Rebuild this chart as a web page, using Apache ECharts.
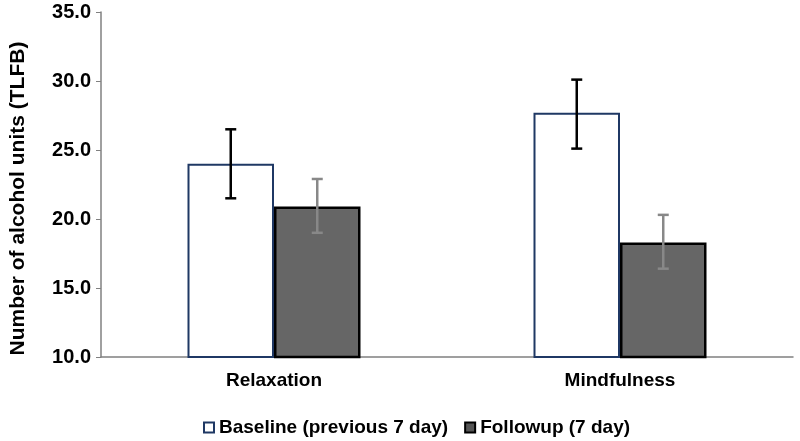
<!DOCTYPE html>
<html>
<head>
<meta charset="utf-8">
<script src="https://cdn.jsdelivr.net/npm/echarts@6/dist/echarts.min.js"></script>
<style>
  html, body { margin: 0; padding: 0; background: #fff; }
  #main { width: 800px; height: 441px; }
</style>
</head>
<body>
<div id="main"></div>
<script>
// categories + values
const categories = ['Relaxation', 'Mindfulness'];
const baseline = [24.0, 27.7];
const followup = [20.9, 18.3];
// error bars [low, high]
const baselineErr = [[21.5, 26.5], [25.1, 30.1]];
const followupErr = [[19.0, 22.9], [16.4, 20.3]];

const FONT = '"Liberation Sans", Arial, sans-serif';

// error bar drawn next to its bar; side -1 = left bar, +1 = right bar
function errorSeries(name, errs, side, color) {
  return {
    type: 'custom',
    name: name + ' err',
    z: 10,
    silent: true,
    data: errs.map((e, i) => [i, e[0], e[1]]),
    renderItem: function (params, api) {
      const band = api.size([1, 0])[0];
      const off = side * band * 0.125;
      const lo = api.coord([api.value(0), api.value(1)]);
      const hi = api.coord([api.value(0), api.value(2)]);
      const x = lo[0] + off;
      const cap = 5.5;
      const style = { stroke: color, lineWidth: 2.5 };
      return {
        type: 'group',
        children: [
          { type: 'line', shape: { x1: x, y1: lo[1], x2: x, y2: hi[1] }, style: style },
          { type: 'line', shape: { x1: x - cap, y1: lo[1], x2: x + cap, y2: lo[1] }, style: style },
          { type: 'line', shape: { x1: x - cap, y1: hi[1], x2: x + cap, y2: hi[1] }, style: style }
        ]
      };
    }
  };
}

const chart = echarts.init(document.getElementById('main'));

chart.setOption({
  animation: false,
  textStyle: { fontFamily: FONT },
  grid: { left: 97, right: 7, top: 12, bottom: 84 },
  legend: {
    top: 413,
    left: 198,
    icon: 'rect',
    itemWidth: 10,
    itemHeight: 10,
    itemGap: 16,
    textStyle: { fontFamily: FONT, fontWeight: 'bold', fontSize: 19, color: '#000' },
    data: [
      { name: 'Baseline (previous 7 day)', itemStyle: { color: '#fff', borderColor: '#1f3864', borderWidth: 2 } },
      { name: 'Followup (7 day)', itemStyle: { color: '#555', borderColor: '#000', borderWidth: 2 } }
    ]
  },
  xAxis: {
    type: 'category',
    data: categories,
    axisLine: { lineStyle: { color: '#808080', width: 1.5 } },
    axisTick: { show: false },
    axisLabel: { color: '#000', fontWeight: 'bold', fontSize: 19, fontFamily: FONT, margin: 14 }
  },
  yAxis: {
    type: 'value',
    min: 10,
    max: 35,
    interval: 5,
    name: 'Number of alcohol units (TLFB)',
    nameLocation: 'middle',
    nameGap: 72,
    nameTextStyle: {
      color: '#000', fontWeight: 'bold', fontSize: 21, fontFamily: FONT,
      padding: [0, 28, 0, 0]
    },
    axisLine: { show: true, lineStyle: { color: '#808080', width: 1.5 } },
    axisTick: { show: true, length: 5, lineStyle: { color: '#808080' } },
    splitLine: { show: false },
    axisLabel: {
      color: '#000', fontWeight: 'bold', fontSize: 20, fontFamily: FONT, margin: 10,
      formatter: v => v.toFixed(1)
    }
  },
  series: [
    {
      name: 'Baseline (previous 7 day)',
      type: 'bar',
      data: baseline,
      barWidth: '25%',
      barGap: '0%',
      itemStyle: { color: '#fff', borderColor: '#1f3864', borderWidth: 2 }
    },
    {
      name: 'Followup (7 day)',
      type: 'bar',
      data: followup,
      barWidth: '25%',
      barGap: '0%',
      itemStyle: { color: '#666', borderColor: '#000', borderWidth: 2.5 }
    },
    errorSeries('Baseline', baselineErr, -1, '#000'),
    errorSeries('Followup', followupErr, 1, '#888')
  ]
});
</script>
</body>
</html>
